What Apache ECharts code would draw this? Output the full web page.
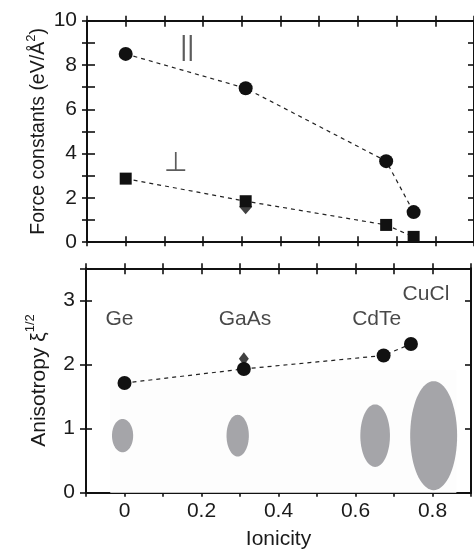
<!DOCTYPE html>
<html>
<head>
<meta charset="utf-8">
<script src="https://cdn.jsdelivr.net/npm/echarts@6/dist/echarts.min.js"></script>
<style>
html,body{margin:0;padding:0;background:#fff;}
#chart{width:474px;height:552px;}
</style>
</head>
<body>
<div id="chart"></div>
<script>
// ---- data ----
const ionicity = [0, 0.31, 0.673, 0.744];
const forceParallel = [8.5, 6.95, 3.66, 1.36];
const forcePerpendicular = [2.87, 1.85, 0.78, 0.24];
const forceDiamond = [[0.31, 1.6]];
const anisotropy = [1.71, 1.93, 2.14, 2.32];
const anisotropyDiamond = [[0.31, 2.09]];
const materials = ['Ge', 'GaAs', 'CdTe', 'CuCl'];
const materialLabelX = [-0.013, 0.313, 0.655, 0.783];
const materialLabelY = [2.7, 2.7, 2.7, 3.1];
const symbolLabels = ['||', '⊥'];
const symbolLabelX = [0.159, 0.129];
const symbolLabelY = [8.77, 3.57];
// ellipses: centre x, centre y, width (x units), height (y units)
const ellipseCx = [-0.005, 0.294, 0.651, 0.803];
const ellipseCy = [0.89, 0.89, 0.89, 0.89];
const ellipseW = [0.055, 0.058, 0.077, 0.122];
const ellipseH = [0.52, 0.65, 0.975, 1.70];
const backdropX = [-0.037, 0.862];
const backdropY = [0, 1.91];

const FONT = 'Liberation Sans, Arial, sans-serif';
const AX = '#111';
const TXT = '#1a1a1a';

function xLabelFmt(v) {
  const k = Math.round(v * 10);
  if (k < 0 || k % 2 !== 0 || k > 8) return '';
  return k === 0 ? '0' : (k / 10).toFixed(1);
}

function xAxisDef(grid, pos, inside, len, main, extra) {
  return Object.assign({
    type: 'value', gridIndex: grid, position: pos, min: -0.1, max: 0.9, interval: 0.1,
    axisLine: { show: main, onZero: false, lineStyle: { color: AX, width: 2 } },
    axisTick: { show: true, inside: inside, length: len, lineStyle: { color: AX, width: 1.6 } },
    axisLabel: { show: false },
    splitLine: { show: false }
  }, extra || {});
}
function yAxisDef(grid, pos, min, max, inside, len, main, extra) {
  return Object.assign({
    type: 'value', gridIndex: grid, position: pos, min: min, max: max, interval: 1,
    axisLine: { show: main, onZero: false, lineStyle: { color: AX, width: 2 } },
    axisTick: { show: true, inside: inside, length: len, lineStyle: { color: AX, width: 1.6 } },
    axisLabel: { show: false },
    splitLine: { show: false }
  }, extra || {});
}

const xAxes = [
  xAxisDef(0, 'bottom', true, 6, true),
  xAxisDef(0, 'bottom', false, 4, false),
  xAxisDef(0, 'top', true, 6, true),
  xAxisDef(0, 'top', false, 5, false),
  xAxisDef(1, 'bottom', true, 6, true, {
    axisLabel: { show: true, formatter: xLabelFmt, fontSize: 21, fontFamily: FONT, color: TXT, margin: 8 },
    name: 'Ionicity', nameLocation: 'middle', nameGap: 36, nameMoveOverlap: false,
    nameTextStyle: { fontSize: 21, fontFamily: FONT, color: TXT }
  }),
  xAxisDef(1, 'bottom', false, 4, false),
  xAxisDef(1, 'top', true, 6, true),
  xAxisDef(1, 'top', false, 5, false)
];

const yAxes = [
  yAxisDef(0, 'left', 0, 10, true, 8, true, {
    axisLabel: { show: true, formatter: v => (v % 2 === 0 ? String(v) : ''), fontSize: 21, fontFamily: FONT, color: TXT, margin: 10 },
    name: 'Force constants (eV/Å{sup|2})', nameLocation: 'middle', nameGap: 34, nameMoveOverlap: false,
    nameTextStyle: { fontSize: 19.5, fontFamily: FONT, color: TXT, lineHeight: 28,
      rich: { sup: { fontSize: 13, lineHeight: 13, verticalAlign: 'top', fontFamily: FONT, color: TXT } } }
  }),
  yAxisDef(0, 'left', 0, 10, false, 5, false),
  yAxisDef(0, 'right', 0, 10, true, 6, true),
  yAxisDef(1, 'left', 0, 3.5, true, 6, true, {
    axisLabel: { show: true, formatter: v => (Number.isInteger(v) ? String(v) : ''), fontSize: 21, fontFamily: FONT, color: TXT, margin: 11 },
    name: 'Anisotropy ξ{sup|1/2}', nameLocation: 'middle', nameGap: 32, nameMoveOverlap: false,
    nameTextStyle: { fontSize: 21, fontFamily: FONT, color: TXT, lineHeight: 30,
      rich: { sup: { fontSize: 13, lineHeight: 13, verticalAlign: 'top', fontFamily: FONT, color: TXT } } }
  }),
  yAxisDef(1, 'left', 0, 3.5, false, 6, false),
  yAxisDef(1, 'right', 0, 3.5, true, 6, true)
];

const dashed = { color: '#222', width: 1.2, type: [4, 4] };

const option = {
  animation: false,
  backgroundColor: '#fff',
  grid: [
    { left: 87, top: 20.7, width: 389, height: 221.5 },
    { left: 86, top: 268.3, width: 389, height: 224.4 }
  ],
  xAxis: xAxes,
  yAxis: yAxes,
  series: [
    {
      type: 'custom', xAxisIndex: 4, yAxisIndex: 3, z: 1,
      data: ellipseCx.map((cx, i) => [cx, ellipseCy[i], ellipseW[i], ellipseH[i]]),
      renderItem: function (params, api) {
        const cx = api.value(0), cy = api.value(1), rw = api.value(2) / 2, rh = api.value(3) / 2;
        const pts = [];
        for (let k = 0; k < 72; k++) {
          const t = k / 72 * Math.PI * 2;
          pts.push(api.coord([cx + rw * Math.cos(t), cy + rh * Math.sin(t)]));
        }
        return {
          type: 'polygon',
          shape: { points: pts },
          style: { fill: '#a5a5a9' }
        };
      },
      markArea: {
        silent: true,
        itemStyle: { color: '#fdfdfd' },
        data: [[{ coord: [backdropX[0], backdropY[0]] }, { coord: [backdropX[1], backdropY[1]] }]]
      }
    },
    {
      type: 'line', xAxisIndex: 0, yAxisIndex: 0, z: 3,
      data: ionicity.map((x, i) => [x, forceParallel[i]]),
      symbol: 'circle', symbolSize: 14,
      itemStyle: { color: '#111' }, lineStyle: dashed
    },
    {
      type: 'scatter', xAxisIndex: 0, yAxisIndex: 0, z: 2,
      data: forceDiamond, symbol: 'diamond', symbolSize: [13, 15],
      itemStyle: { color: '#111' }
    },
    {
      type: 'line', xAxisIndex: 0, yAxisIndex: 0, z: 3,
      data: ionicity.map((x, i) => [x, forcePerpendicular[i]]),
      symbol: 'rect', symbolSize: 12,
      itemStyle: { color: '#111' }, lineStyle: dashed
    },
    {
      type: 'scatter', xAxisIndex: 0, yAxisIndex: 0, z: 4,
      data: symbolLabelX.map((x, i) => ({ value: [x, symbolLabelY[i]], name: symbolLabels[i] })),
      symbolSize: 0,
      label: {
        show: true, position: 'inside', formatter: p => p.name,
        color: '#333', fontFamily: FONT, fontSize: 27
      }
    },
    {
      type: 'scatter', xAxisIndex: 4, yAxisIndex: 3, z: 2,
      data: anisotropyDiamond, symbol: 'diamond', symbolSize: [10, 13],
      itemStyle: { color: '#111' }
    },
    {
      type: 'line', xAxisIndex: 4, yAxisIndex: 3, z: 3,
      data: ionicity.map((x, i) => [x, anisotropy[i]]),
      symbol: 'circle', symbolSize: 14,
      itemStyle: { color: '#111' }, lineStyle: dashed
    },
    {
      type: 'scatter', xAxisIndex: 4, yAxisIndex: 3, z: 4,
      data: materialLabelX.map((x, i) => ({ value: [x, materialLabelY[i]], name: materials[i] })),
      symbolSize: 0,
      label: {
        show: true, position: 'inside', formatter: p => p.name,
        color: TXT, fontFamily: FONT, fontSize: 21
      }
    }
  ]
};

const chart = echarts.init(document.getElementById('chart'), null, { renderer: 'canvas' });
chart.setOption(option);
</script>
</body>
</html>
